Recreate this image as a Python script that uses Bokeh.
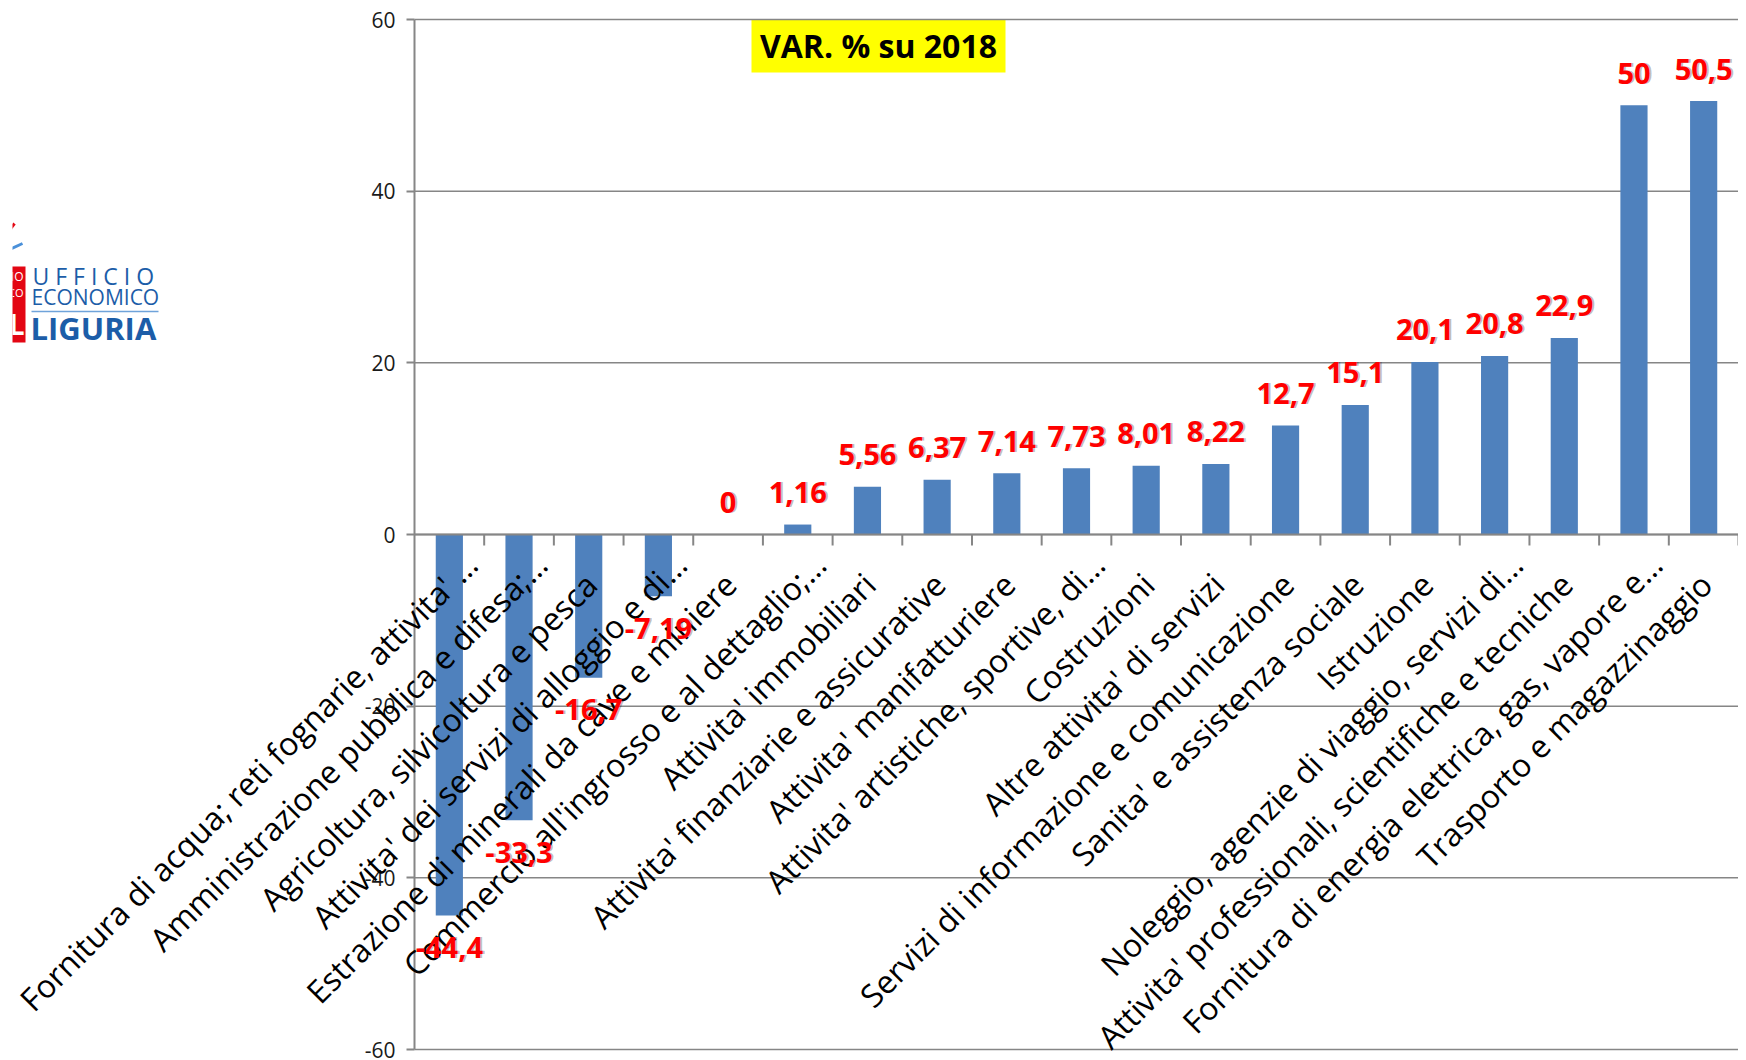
import math
from bokeh.plotting import figure
from bokeh.models import (ColumnDataSource, LabelSet, Label, Range1d, FixedTicker,
                          BoxAnnotation, Arrow, LinearAxis)
from bokeh.embed import file_html
from bokeh.resources import INLINE
from bokeh.core.properties import value

# ---------------- data ----------------
categories = [
    "Fornitura di acqua; reti fognarie, attivita' …",
    "Amministrazione pubblica e difesa;…",
    "Agricoltura, silvicoltura e pesca",
    "Attivita' dei servizi di alloggio e di…",
    "Estrazione di minerali da cave e miniere",
    "Commercio all'ingrosso e al dettaglio;…",
    "Attivita' immobiliari",
    "Attivita' finanziarie e assicurative",
    "Attivita' manifatturiere",
    "Attivita' artistiche, sportive, di…",
    "Costruzioni",
    "Altre attivita' di servizi",
    "Servizi di informazione e comunicazione",
    "Sanita' e assistenza sociale",
    "Istruzione",
    "Noleggio, agenzie di viaggio, servizi di…",
    "Attivita' professionali, scientifiche e tecniche",
    "Fornitura di energia elettrica, gas, vapore e…",
    "Trasporto e magazzinaggio",
]
values = [-44.4, -33.3, -16.7, -7.19, 0, 1.16, 5.56, 6.37, 7.14, 7.73,
          8.01, 8.22, 12.7, 15.1, 20.1, 20.8, 22.9, 50, 50.5]
y_ticks = [-60, -40, -20, 0, 20, 40, 60]
y_tick_labels = [str(t) for t in y_ticks]
title_text = "VAR. % su 2018"

# ---------------- layout constants (page pixels) ----------------
W, H = 1738, 1058
FRAME_L = 12          # left edge of the plotting frame
AXIS_X = 414          # where the value axis sits
TOP_Y, BOT_Y = 19, 1049   # pixel rows of the top / bottom value ticks
n = len(categories)
YMIN, YMAX = y_ticks[0], y_ticks[-1]
sx = (W - AXIS_X) / n
sy = (BOT_Y - TOP_Y) / (YMAX - YMIN)
x_start = -(AXIS_X - FRAME_L) / sx
y_end = YMAX + TOP_Y / sy
y_start = YMIN - (H - BOT_Y) / sy


def dx(px):  # page pixel x -> data x
    return (px - AXIS_X) / sx


def dy(py):  # page pixel y -> data y
    return y_end - py / sy


positions = [i + 0.5 for i in range(n)]
boundaries = [i for i in range(1, n + 1)]
value_labels = [f"{v:g}".replace(".", ",") for v in values]
label_offsets = [32 if v >= 0 else -32 for v in values]
# truncated labels (ending with an ellipsis) sit further along their slope
cat_dx = [2 + (20 if c.endswith("…") else 0) for c in categories]
cat_dy = [-44 + (20 if c.endswith("…") else 0) for c in categories]

src = ColumnDataSource(dict(x=positions, top=values, lab=value_labels,
                            off=label_offsets, cat=categories, zero=[0] * n,
                            cdx=cat_dx, cdy=cat_dy))
tick_src = ColumnDataSource(dict(y=y_ticks, lab=y_tick_labels,
                                 x0=[0] * len(y_ticks), x1=[n] * len(y_ticks)))

p = figure(width=W, height=H, output_backend="svg", toolbar_location=None,
           x_range=Range1d(x_start, n), y_range=Range1d(y_start, y_end),
           min_border_left=FRAME_L, min_border_top=0, min_border_right=0,
           min_border_bottom=0, x_axis_location=None, y_axis_location=None)
p.outline_line_color = None
p.background_fill_color = "white"
p.border_fill_color = "white"
p.xgrid.visible = False
p.ygrid.visible = False

# value axis, fixed at x = 0
ya = LinearAxis(fixed_location=0, ticker=FixedTicker(ticks=y_ticks),
                bounds=(YMIN, YMAX))
ya.major_label_overrides = {t: "" for t in y_ticks}
ya.major_label_standoff = 0
ya.axis_line_color = "#868686"
ya.axis_line_width = 2
ya.major_tick_line_color = "#868686"
ya.major_tick_line_width = 2
ya.major_tick_out = 8
ya.major_tick_in = 0
ya.minor_tick_line_color = None
p.add_layout(ya, "left")

# horizontal gridlines
p.segment(x0="x0", x1="x1", y0="y", y1="y", source=tick_src,
          line_color="#868686", line_width=1.5)

# tick labels of value axis
p.add_layout(LabelSet(x="x0", y="y", text="lab", source=tick_src,
                      text_align="right", text_baseline="middle", x_offset=-19,
                      text_font=value("Open Sans"), text_font_size="21px",
                      text_color="#1a1a1a"))

# title box
p.add_layout(BoxAnnotation(left=dx(751), right=dx(1005), top=YMAX, bottom=dy(72),
                           fill_color="#FFFF00", fill_alpha=1, line_color=None,
                           level="underlay"))
p.add_layout(Label(x=dx(878), y=dy(45), text=title_text, text_align="center",
                   text_baseline="middle", text_font="Open Sans",
                   text_font_style="bold", text_font_size="32px",
                   text_color="black"))

# bars
p.vbar(x="x", top="top", bottom=0, width=0.39, source=src,
       fill_color="#4F81BD", line_color=None)

# category axis at zero
p.segment(x0=[0], x1=[n], y0=[0], y1=[0], line_color="#868686", line_width=2)
p.ray(x=boundaries, y=[0] * len(boundaries), length=11, length_units="screen",
      angle=-math.pi / 2, line_color="#868686", line_width=2)

# category labels
p.add_layout(LabelSet(x="x", y="zero", text="cat", source=src,
                      angle=math.pi / 4, text_align="right",
                      text_baseline="middle", x_offset="cdx", y_offset="cdy",
                      text_font=value("Open Sans"), text_font_size="32px",
                      text_color="black"))

# value labels (shadow + text)
p.add_layout(LabelSet(x="x", y="top", text="lab", source=src,
                      text_align="center", text_baseline="middle",
                      x_offset=2, y_offset="off",
                      text_font=value("Open Sans"), text_font_style="bold",
                      text_font_size="29px", text_color="black",
                      text_alpha=0.25))
p.add_layout(LabelSet(x="x", y="top", text="lab", source=src,
                      text_align="center", text_baseline="middle",
                      y_offset="off",
                      text_font=value("Open Sans"), text_font_style="bold",
                      text_font_size="29px", text_color="#FF0000"))

# ---------------- logo (decorative) ----------------
LOGO_BLUE = "#1C5DA8"
LOGO_RED = "#E30613"
p.add_layout(Arrow(end=None, x_start=dx(0), y_start=dy(241), x_end=dx(14), y_end=dy(223),
                   line_color=LOGO_RED, line_width=3))
p.add_layout(Arrow(end=None, x_start=dx(0), y_start=dy(253), x_end=dx(22), y_end=dy(243),
                   line_color="#4A90D9", line_width=3))
p.add_layout(Label(x=dx(25), y=dy(342), text="IL", text_align="right",
                   text_baseline="bottom", text_color="white",
                   text_font="Open Sans", text_font_style="bold",
                   text_font_size="28px", background_fill_color=LOGO_RED,
                   padding=dict(left=30, right=1, top=38, bottom=0)))
p.add_layout(Label(x=dx(23), y=dy(276), text="IO", text_align="right",
                   text_baseline="middle", text_color="white",
                   text_font="Open Sans", text_font_size="12px"))
p.add_layout(Label(x=dx(23), y=dy(292), text="MICO", text_align="right",
                   text_baseline="middle", text_color="white",
                   text_font="Open Sans", text_font_size="11px"))
p.add_layout(Label(x=dx(32), y=dy(275), text="U F F I C I O", text_align="left",
                   text_baseline="middle", text_color=LOGO_BLUE,
                   text_font="Open Sans", text_font_size="23px"))
p.add_layout(Label(x=dx(31), y=dy(296), text="ECONOMICO", text_align="left",
                   text_baseline="middle", text_color=LOGO_BLUE,
                   text_font="Open Sans", text_font_size="21px"))
p.add_layout(Arrow(end=None, x_start=dx(31), y_start=dy(311), x_end=dx(158), y_end=dy(311),
                   line_color="#6FA3DA", line_width=1.5))
p.add_layout(Label(x=dx(30), y=dy(327), text="LIGURIA", text_align="left",
                   text_baseline="middle", text_color=LOGO_BLUE,
                   text_font="Open Sans", text_font_style="bold",
                   text_font_size="31px"))

open("out.html", "w").write(file_html(p, INLINE))
